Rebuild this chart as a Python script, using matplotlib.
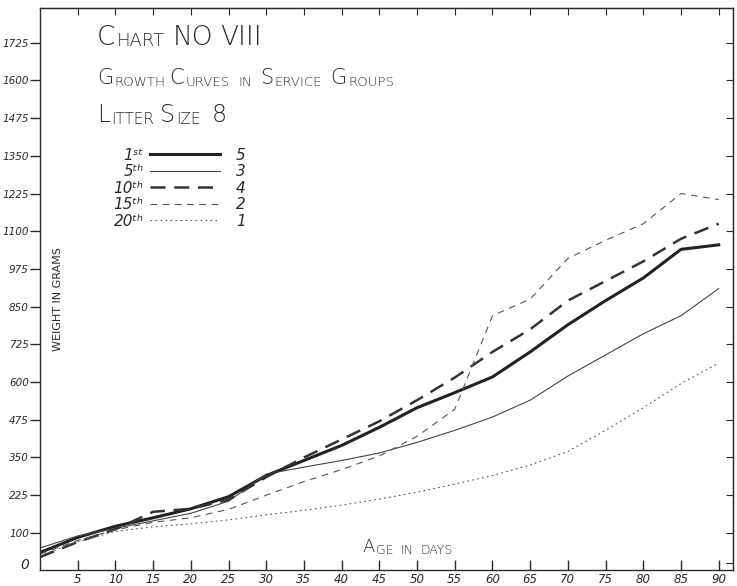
import matplotlib
matplotlib.use('Agg')
import matplotlib.pyplot as plt
from matplotlib.lines import Line2D

# age in days
days = [0, 5, 10, 15, 20, 25, 30, 35, 40, 45, 50, 55, 60, 65, 70, 75, 80, 85, 90]

# weight in grams per service group
first = [35, 85, 122, 150, 180, 220, 290, 340, 390, 450, 515, 565, 617, 700, 790, 870, 945, 1040, 1055]
fifth = [50, 90, 115, 140, 165, 205, 295, 318, 340, 365, 400, 440, 484, 540, 620, 690, 760, 820, 910]
tenth = [20, 70, 112, 170, 180, 210, 285, 350, 410, 470, 540, 615, 700, 775, 870, 935, 1000, 1075, 1125]
fifteenth = [30, 75, 110, 135, 150, 178, 225, 270, 310, 355, 420, 510, 820, 875, 1010, 1070, 1125, 1225, 1205]
twentieth = [25, 70, 105, 120, 130, 143, 160, 175, 192, 212, 235, 262, 290, 325, 370, 440, 515, 595, 663]

group_labels = ['1ˢᵗ', '5ᵗʰ', '10ᵗʰ', '15ᵗʰ', '20ᵗʰ']
litters = ['5', '3', '4', '2', '1']

xticks = list(range(5, 95, 5))
yticks = [0, 100, 225, 350, 475, 600, 725, 850, 975, 1100, 1225, 1350, 1475, 1600, 1725]

ink = '#2a2a2a'
plt.rcParams['font.family'] = ['DejaVu Sans']

fig = plt.figure(figsize=(7.37, 5.86), dpi=100)
fig.patch.set_facecolor('white')
ax = fig.add_axes([0.0543, 0.0273, 0.9403, 0.959])

styles = [
    dict(color='#222222', lw=2.2),
    dict(color='#444444', lw=0.8),
    dict(color='#333333', lw=1.8, dashes=(6, 3.5)),
    dict(color='#555555', lw=0.8, dashes=(6, 5)),
    dict(color='#555555', lw=0.8, dashes=(1.5, 3)),
]
series = [first, fifth, tenth, fifteenth, twentieth]
handles = []
for vals, st in zip(series, styles):
    ln, = ax.plot(days, vals, **st)
    handles.append(ln)

ax.set_xlim(0, 91.9)
ax.set_ylim(-23, 1840)
ax.set_xticks(xticks)
ax.set_xticklabels([str(d) for d in xticks], style='italic', fontsize=8.5, color=ink)
ax.set_yticks(yticks)
ax.set_yticklabels([str(v) for v in yticks], style='italic', fontsize=7.5, color=ink)
ax.get_yticklabels()[0].set_fontsize(10)
ax.tick_params(axis='x', direction='in', length=7, width=1, pad=2, colors=ink)
ax.tick_params(axis='y', direction='out', length=7, width=1, pad=1, colors=ink)
ax.yaxis.get_major_ticks()[0].tick1line.set_visible(False)
for s in ax.spines.values():
    s.set_color(ink)
    s.set_linewidth(1)

top = ax.secondary_xaxis('top')
top.set_xticks(xticks)
top.tick_params(direction='in', length=5, labeltop=False, colors=ink)
right = ax.secondary_yaxis('right')
right.set_yticks(yticks)
right.tick_params(direction='in', length=5, labelright=False, colors=ink)


def caps(x, y, pieces, big, small):
    # fake small capitals: each piece is (text, is_big, gap in points)
    prev = None
    for text, is_big, gap in pieces:
        size = big if is_big else small
        if prev is None:
            prev = ax.text(x, y, text, transform=ax.transAxes, fontsize=size,
                           va='bottom', color=ink, fontweight='light')
        else:
            prev = ax.annotate(text, xy=(1, 0), xycoords=prev, xytext=(gap, 0),
                               textcoords='offset points', fontsize=size,
                               va='bottom', color=ink, fontweight='light')
    return prev


caps(0.082, 0.925, [('C', 1, 0), ('HART', 0, 1), ('NO', 1, 6), ('VIII', 1, 5)], 19, 13)
caps(0.082, 0.857, [('G', 1, 0), ('ROWTH', 0, 1), ('C', 1, 3), ('URVES', 0, 1), ('IN', 0, 6),
                    ('S', 1, 6), ('ERVICE', 0, 1), ('G', 1, 6), ('ROUPS', 0, 1)], 15, 9.5)
caps(0.082, 0.788, [('L', 1, 0), ('ITTER', 0, 1), ('S', 1, 4), ('IZE', 0, 1), ('8', 1, 8)], 17, 11)
caps(0.465, 0.025, [('A', 1, 0), ('GE', 0, 1), ('IN', 0, 5), ('DAYS', 0, 5)], 13, 9)

ax.text(0.026, 0.482, 'WEIGHT IN GRAMS', transform=ax.transAxes, rotation=90,
        fontsize=8, color=ink, ha='center', va='center')

leg1 = ax.legend(handles, group_labels, loc='upper left', bbox_to_anchor=(0.095, 0.765),
                 frameon=False, markerfirst=False, handlelength=4.6, handletextpad=0.4,
                 labelspacing=0.1, prop=dict(size=11, style='italic'), borderpad=0,
                 labelcolor=ink)
ax.add_artist(leg1)
blank = [Line2D([], [], lw=0) for _ in litters]
ax.legend(blank, litters, loc='upper left', bbox_to_anchor=(0.272, 0.765),
          frameon=False, handlelength=0, handletextpad=0, labelspacing=0.1,
          prop=dict(size=11, style='italic'), borderpad=0, labelcolor=ink)

fig.savefig('out.png', dpi=100, facecolor='white')
